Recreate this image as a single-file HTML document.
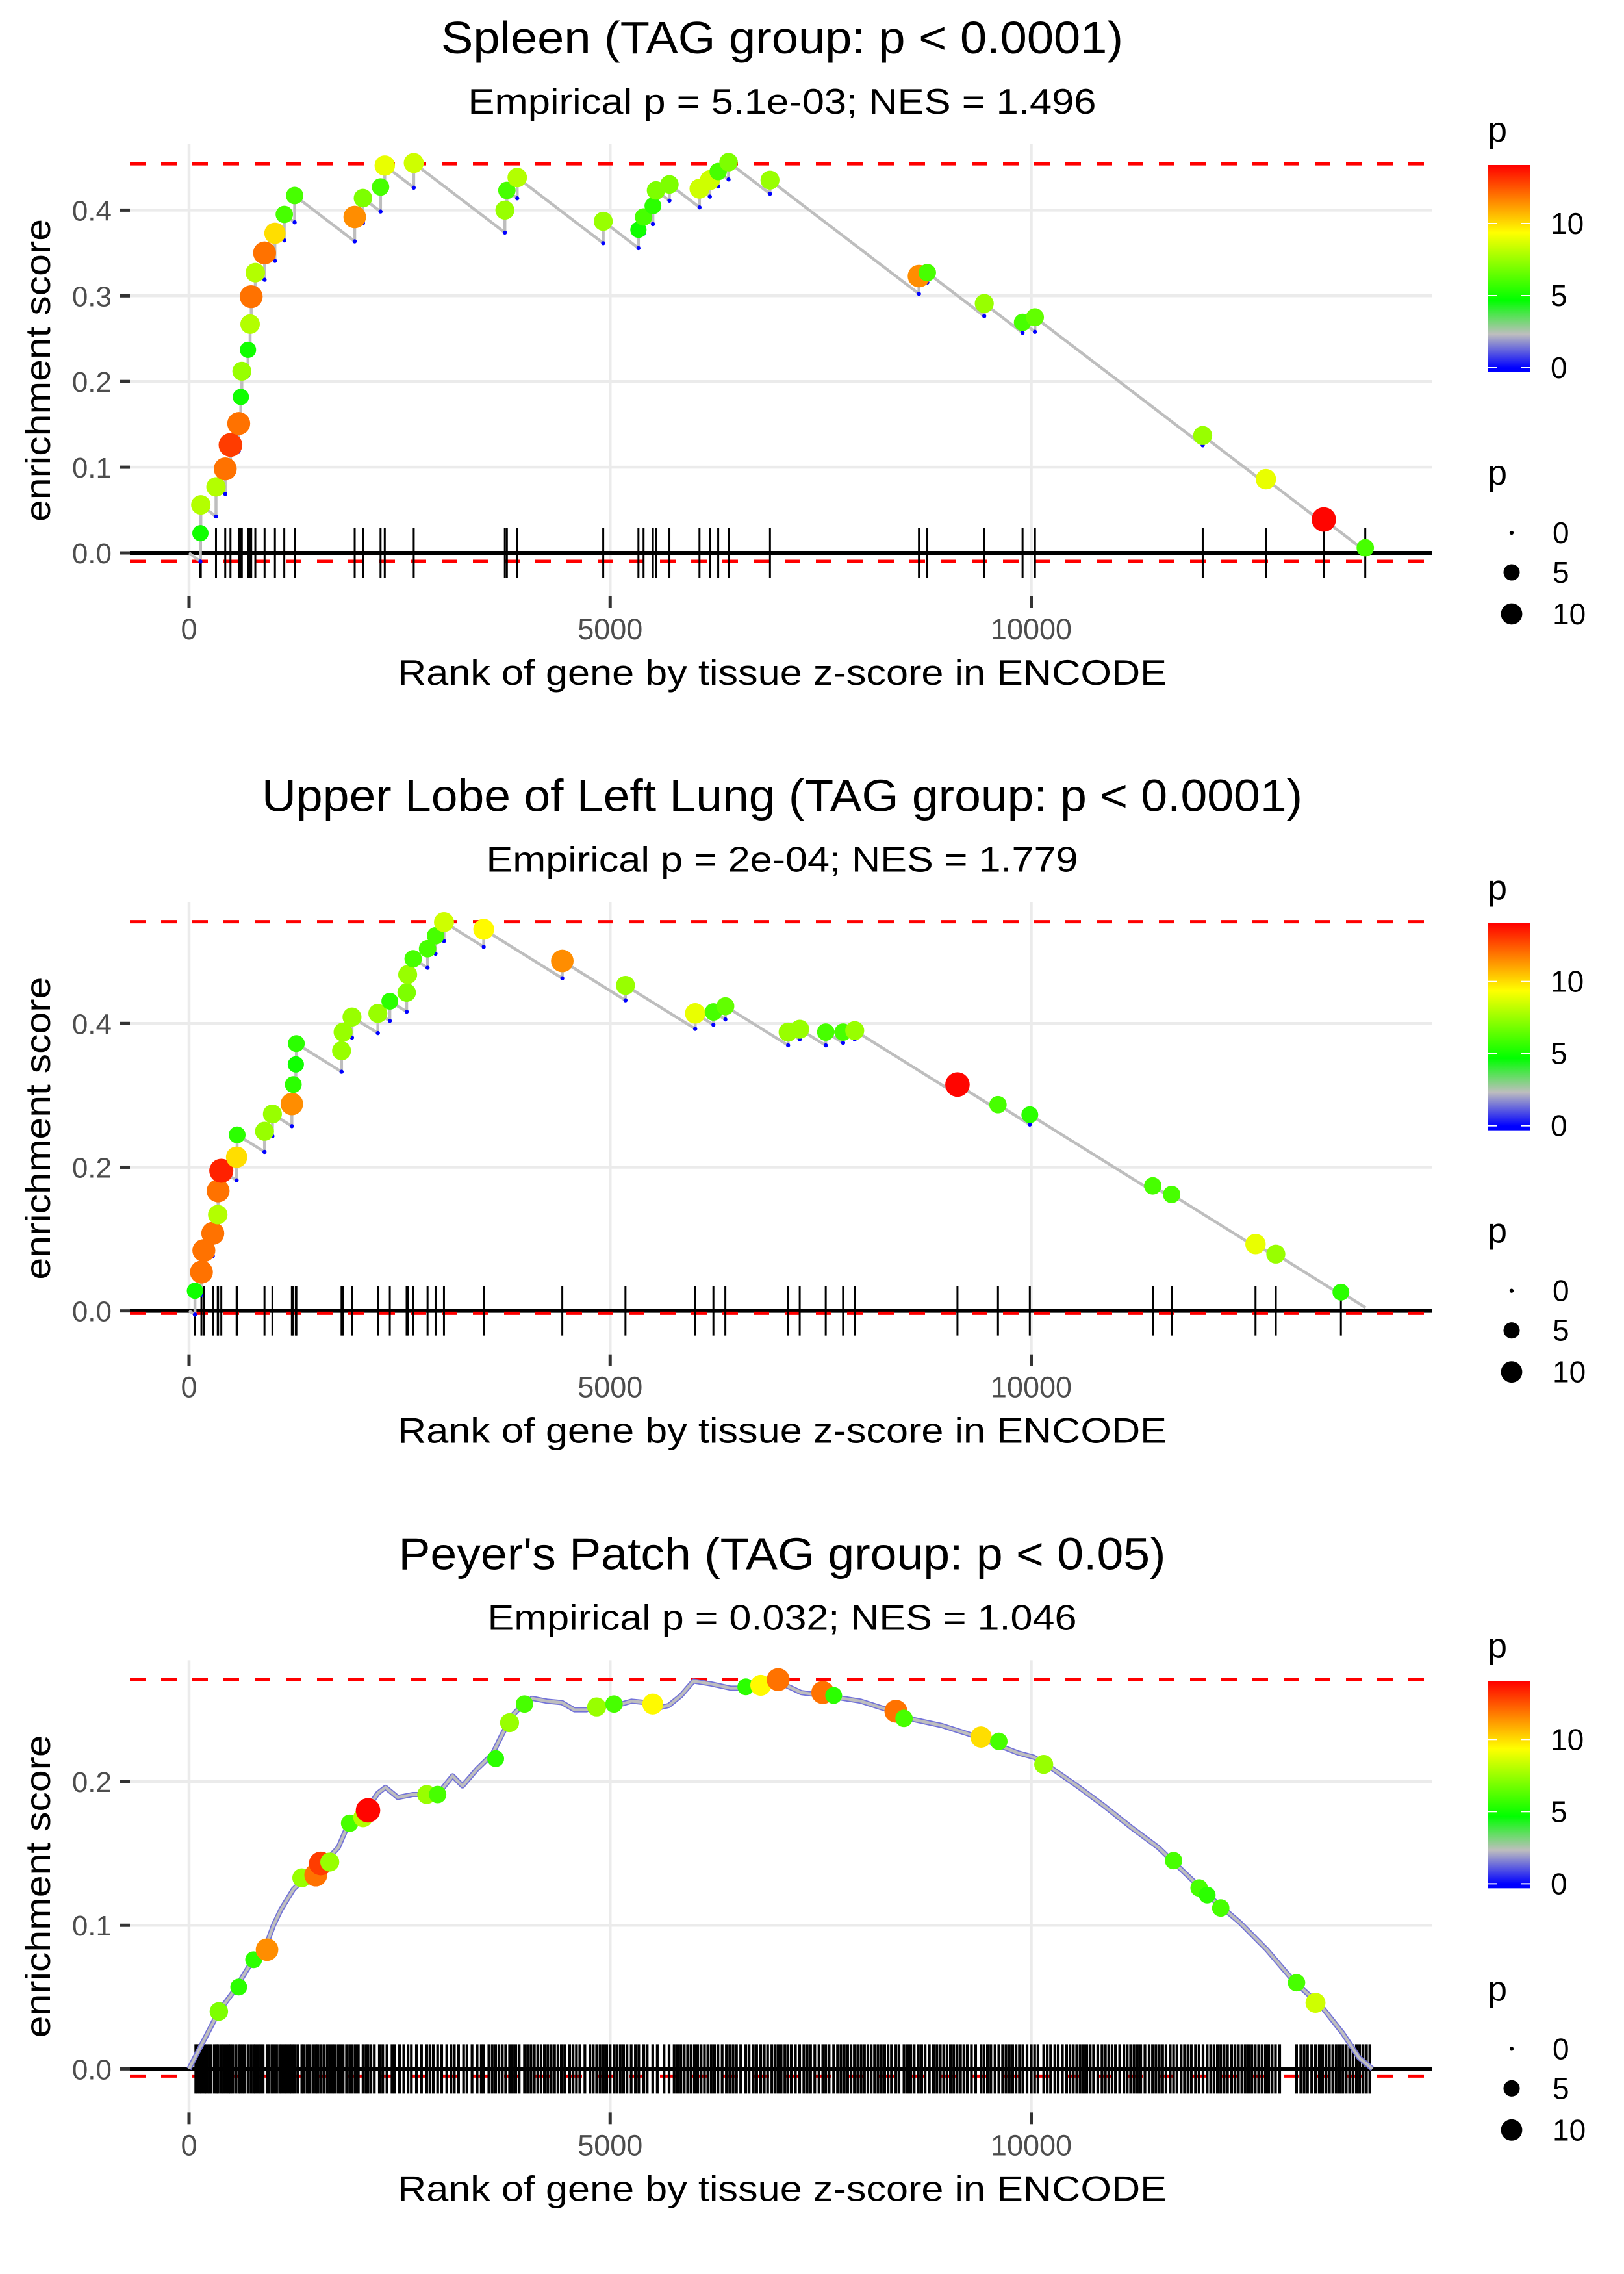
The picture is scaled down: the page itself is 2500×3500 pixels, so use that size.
<!DOCTYPE html>
<html><head><meta charset="utf-8"><title>Enrichment plots</title>
<style>
html,body{margin:0;padding:0;background:#fff;}
svg{display:block;font-family:"Liberation Sans",Arial,sans-serif;}
</style></head>
<body>
<svg id="chart" xmlns="http://www.w3.org/2000/svg" width="2500" height="3500" viewBox="0 0 2500 3500">
<rect x="0" y="0" width="2500" height="3500" fill="#ffffff"/>
<defs>
<linearGradient id="pgrad" x1="0" y1="1" x2="0" y2="0">
<stop offset="0.0208" stop-color="#0000ff"/>
<stop offset="0.184" stop-color="#bebebe"/>
<stop offset="0.347" stop-color="#00ff00"/>
<stop offset="0.674" stop-color="#ffff00"/>
<stop offset="1" stop-color="#ff0000"/>
</linearGradient>
</defs>
</svg>
<script>
// ---------- data ----------
const panelTitles = ["Spleen (TAG group: p < 0.0001)", "Upper Lobe of Left Lung (TAG group: p < 0.0001)", "Peyer's Patch (TAG group: p < 0.05)"];
const panelSubtitles = ["Empirical p = 5.1e-03; NES = 1.496", "Empirical p = 2e-04; NES = 1.779", "Empirical p = 0.032; NES = 1.046"];
const xTickValues = [0, 5000, 10000];
const xTickLabels = ["0", "5000", "10000"];
const spleenYTicks = [0, 0.1, 0.2, 0.3, 0.4];
const spleenYTickLabels = ["0.0", "0.1", "0.2", "0.3", "0.4"];
const lungYTicks = [0, 0.2, 0.4];
const lungYTickLabels = ["0.0", "0.2", "0.4"];
const peyerYTicks = [0, 0.1, 0.2];
const peyerYTickLabels = ["0.0", "0.1", "0.2"];
const legendTickValues = [0, 5, 10];
const legendTickLabels = ["0", "5", "10"];

const spleenRanks = [135,140,320,430,492,590,615,627,700,725,738,787,897,1020,1131,1254,1967,2065,2274,2324,2668,3750,3774,3897,4918,5336,5397,5508,5545,5704,6061,6184,6283,6406,6898,8667,8766,9442,9897,10044,12036,12786,13474,13966];
const spleenES = [0.023,0.056,0.077,0.098,0.126,0.151,0.182,0.212,0.237,0.267,0.299,0.327,0.350,0.373,0.395,0.417,0.392,0.414,0.427,0.452,0.455,0.400,0.423,0.438,0.387,0.377,0.392,0.405,0.423,0.430,0.425,0.435,0.445,0.456,0.435,0.323,0.327,0.291,0.269,0.275,0.137,0.086,0.039,0.006];
const spleenP = [5,8,8,12,13,12,5,7.5,5,8,12,8,12,10,6,6,11.5,7,6,9,8.5,7.5,6,8,7.5,5,6,5.5,7,7,8.5,8.5,6,7,7.5,11.5,6,7.5,6,6.5,7.5,9,14,6];
const spleenMinMax = [-0.0099, 0.454];
const spleenTotal = 14040;

const lungRanks = [70,147,176,282,341,345,383,565,571,896,990,1221,1238,1268,1274,1811,1829,1935,2242,2384,2584,2596,2661,2832,2927,3027,3499,4432,5182,6010,6226,6368,7113,7251,7560,7766,7904,9124,9605,9983,11443,11667,12663,12904,13677];
const lungES = [0.028,0.054,0.084,0.108,0.134,0.167,0.195,0.214,0.245,0.250,0.274,0.288,0.315,0.343,0.372,0.362,0.388,0.409,0.414,0.431,0.443,0.468,0.490,0.504,0.522,0.541,0.531,0.487,0.453,0.414,0.416,0.424,0.388,0.392,0.388,0.388,0.390,0.315,0.287,0.273,0.174,0.162,0.093,0.079,0.026];
const lungP = [5,12,12,12,8,12,13.5,10,5.5,7.5,7.5,11.5,5.5,5,5.5,7.5,7.5,7.5,7.5,5.5,7,7.5,6,6,6,8.5,9.5,11.5,7.5,9,6,6.5,7.5,7.5,6,6,7.5,14,6,5.5,6,6,9,7.5,5.5];
const lungMinMax = [-0.0034, 0.5416];
const lungTotal = 13970;

const peyerCurveRanks = [0,177,354,531,708,885,1003,1092,1239,1416,1593,1771,1889,2007,2125,2243,2332,2479,2656,2775,2952,3129,3247,3424,3601,3719,3837,3955,4073,4250,4427,4575,4722,4840,5076,5253,5430,5548,5695,5843,5990,6197,6433,6611,6847,7011,7268,7654,7975,8296,8618,8939,9261,9582,9839,10032,10225,10546,10868,11189,11511,11832,12154,12475,12797,13118,13440,13697,13890,14050];
const peyerCurveES = [0,0.020,0.040,0.054,0.071,0.081,0.100,0.111,0.125,0.135,0.143,0.154,0.170,0.175,0.182,0.192,0.196,0.189,0.191,0.191,0.191,0.204,0.197,0.209,0.219,0.233,0.246,0.253,0.258,0.256,0.255,0.250,0.250,0.253,0.253,0.256,0.255,0.251,0.253,0.260,0.270,0.268,0.265,0.265,0.270,0.269,0.262,0.259,0.256,0.250,0.243,0.239,0.233,0.226,0.220,0.217,0.210,0.197,0.183,0.168,0.154,0.136,0.118,0.102,0.083,0.061,0.044,0.025,0.008,0];
const peyerHitRanks = [354,590,767,926,1339,1505,1564,1671,1907,2066,2125,2822,2952,3641,3806,3983,4840,5046,5506,6611,6788,6995,7525,7654,8393,8489,9404,9615,10148,11690,11993,12089,12250,13150,13375];
const peyerHitES = [0.040,0.057,0.076,0.083,0.133,0.135,0.143,0.144,0.171,0.175,0.180,0.191,0.191,0.216,0.241,0.254,0.252,0.254,0.254,0.266,0.267,0.271,0.262,0.260,0.249,0.244,0.231,0.228,0.212,0.145,0.126,0.121,0.112,0.060,0.046];
const peyerHitP = [7,5.5,5.5,11.5,7.5,12,13,7.5,6,8,14,7.5,6,5.5,7.5,6,7.5,6,9.5,5.5,9.5,12,12,5.5,12,6,10,6,7.5,6,6,5.5,6,6,8.5];
const peyerRugRanks = [80,105,130,150,185,210,240,262,300,330,345,380,410,440,470,490,520,555,590,610,640,660,700,735,767,790,820,850,880,926,950,985,1010,1040,1075,1100,1130,1160,1195,1220,1250,1290,1339,1360,1400,1430,1470,1505,1530,1564,1600,1640,1671,1700,1730,1770,1800,1830,1870,1907,1940,1975,2010,2066,2100,2125,2160,2200,2260,2300,2350,2410,2440,2500,2550,2600,2640,2700,2760,2822,2860,2900,2952,3000,3060,3110,3150,3200,3260,3300,3360,3420,3470,3500,3560,3600,3641,3680,3720,3760,3806,3840,3880,3920,3983,4020,4060,4100,4140,4180,4220,4260,4300,4340,4380,4420,4460,4520,4560,4600,4640,4700,4760,4800,4840,4880,4920,4960,5000,5046,5080,5120,5160,5200,5250,5300,5340,5400,5440,5506,5560,5640,5700,5760,5800,5840,5880,5920,5960,6000,6040,6080,6120,6160,6200,6240,6280,6330,6380,6420,6460,6500,6550,6611,6650,6700,6740,6788,6830,6870,6920,6960,6995,7030,7075,7110,7150,7200,7250,7300,7340,7380,7430,7480,7525,7560,7600,7654,7700,7740,7780,7820,7860,7900,7940,7980,8020,8060,8100,8140,8180,8220,8260,8300,8340,8393,8430,8489,8530,8570,8610,8660,8700,8740,8790,8840,8880,8920,8960,9000,9040,9080,9120,9160,9200,9240,9290,9340,9404,9440,9480,9520,9570,9615,9660,9700,9740,9780,9820,9860,9900,9950,10000,10040,10080,10148,10190,10230,10280,10320,10370,10420,10460,10500,10540,10580,10620,10660,10700,10740,10790,10840,10880,10920,10960,11000,11050,11100,11140,11180,11220,11260,11300,11350,11400,11440,11480,11520,11560,11600,11650,11690,11730,11780,11820,11860,11900,11950,11993,12040,12089,12130,12170,12210,12250,12290,12330,12380,12420,12460,12500,12540,12580,12620,12660,12700,12740,12780,12820,12860,12900,12950,13150,13200,13240,13280,13330,13375,13420,13460,13500,13540,13580,13620,13660,13700,13740,13780,13820,13860,13900,13940,13980,14020];
const peyerMinMax = [-0.005, 0.2709];

// ---------- drawing ----------
const NS = "http://www.w3.org/2000/svg";
const svg = document.getElementById("chart");
function mk(tag, attrs, parent) {
  const el = document.createElementNS(NS, tag);
  for (const k in attrs) el.setAttribute(k, attrs[k]);
  (parent || svg).appendChild(el);
  return el;
}
const PMAX = 14.1;
const cStops = [[0,[0,0,255]],[2.35,[190,190,190]],[4.7,[0,255,0]],[9.4,[255,255,0]],[14.1,[255,0,0]]];
function pColor(p) {
  if (p <= cStops[0][0]) return "rgb(0,0,255)";
  for (let i = 1; i < cStops.length; i++) {
    if (p <= cStops[i][0]) {
      const a = cStops[i-1], b = cStops[i];
      const t = (p - a[0]) / (b[0] - a[0]);
      const c = a[1].map((v, j) => Math.round(v + (b[1][j] - v) * t));
      return "rgb(" + c.join(",") + ")";
    }
  }
  return "rgb(255,0,0)";
}
function pRadius(p) { return 3.15 * (1 + 5 * Math.sqrt(Math.max(p, 0) / PMAX)); }
const xS = r => 291 + r * 0.12965;
const LEFT = 200, RIGHT = 2204;

function drawPanel(idx, cfg) {
  const off = idx * 1166.67;
  const g = mk("g", {});
  
  
  const top = 222 + off, bottom = 918 + off, zero = 851 + off;
  const yS = v => zero - v * cfg.k;

  let t = mk("text", {x: 1204, y: 82 + off, "text-anchor": "middle", "font-size": 70, fill: "#000", textLength: cfg.titleW, lengthAdjust: "spacingAndGlyphs"}, g);
  t.textContent = panelTitles[idx];
  
  
  t = mk("text", {x: 1204, y: 175 + off, "text-anchor": "middle", "font-size": 55, fill: "#000", textLength: cfg.subW, lengthAdjust: "spacingAndGlyphs"}, g);
  t.textContent = panelSubtitles[idx];
  
  

  cfg.yTicks.forEach(v => {
    const l = mk("line", {x1: LEFT, x2: RIGHT, y1: yS(v), y2: yS(v), stroke: "#ebebeb", "stroke-width": 4.5}, g);
    
    
  });
  xTickValues.forEach(v => {
    const l = mk("line", {x1: xS(v), x2: xS(v), y1: top, y2: bottom, stroke: "#ebebeb", "stroke-width": 4.5}, g);
    
    
  });

  let z = mk("line", {x1: LEFT, x2: RIGHT, y1: yS(0), y2: yS(0), stroke: "#000", "stroke-width": 6}, g);
  
  
  cfg.minMax.forEach((v, i) => {
    const d = mk("line", {x1: LEFT, x2: RIGHT, y1: yS(v), y2: yS(v), stroke: "#ff0000", "stroke-width": 5, "stroke-dasharray": "24 24"}, g);
    
    
  });
  const rugG = mk("g", {}, g);
  
  
  cfg.rug.forEach(r => {
    const l = mk("line", {x1: xS(r), x2: xS(r), y1: zero - 38, y2: zero + 38, stroke: "#000", "stroke-width": cfg.rugW}, rugG);
    
    
  });

  if (cfg.curveR) {
    let d = "";
    cfg.curveR.forEach((r, i) => { d += (i ? "L" : "M") + xS(r).toFixed(1) + "," + yS(cfg.curveV[i]).toFixed(1); });
    const under = mk("path", {d: d, fill: "none", stroke: "#7272d8", "stroke-width": 8, "stroke-linejoin": "round"}, g);
    
    
    const ln = mk("path", {d: d, fill: "none", stroke: "#bebebe", "stroke-width": 4.5, "stroke-linejoin": "round"}, g);
    
    
  } else {
    let d = "M" + xS(0) + "," + yS(0);
    let prevR = 0, prevV = 0;
    const bottoms = [];
    cfg.ranks.forEach((r, i) => {
      const b = prevV - cfg.slope * (r - prevR);
      bottoms.push([r, b]);
      d += "L" + xS(r).toFixed(1) + "," + yS(b).toFixed(1) + "L" + xS(r).toFixed(1) + "," + yS(cfg.es[i]).toFixed(1);
      prevR = r; prevV = cfg.es[i];
    });
    d += "L" + xS(cfg.total).toFixed(1) + "," + yS(prevV - cfg.slope * (cfg.total - prevR)).toFixed(1);
    const ln = mk("path", {d: d, fill: "none", stroke: "#bebebe", "stroke-width": 4.5, "stroke-linejoin": "round"}, g);
    
    
    bottoms.forEach(b => {
      const c = mk("circle", {cx: xS(b[0]), cy: yS(b[1]), r: 3.2, fill: "#0000ff"}, g);
      
      
    });
  }
  cfg.ranks.forEach((r, i) => {
    const c = mk("circle", {cx: xS(r), cy: yS(cfg.es[i]), r: pRadius(cfg.p[i]), fill: pColor(cfg.p[i])}, g);
    
    
  });

  cfg.yTicks.forEach((v, i) => {
    const tk = mk("line", {x1: 185, x2: 200, y1: yS(v), y2: yS(v), stroke: "#333", "stroke-width": 5}, g);
    
    
    const lb = mk("text", {x: 172, y: yS(v) + 16, "text-anchor": "end", "font-size": 44, fill: "#4d4d4d"}, g);
    lb.textContent = cfg.yLabels[i];
    
    
  });
  xTickValues.forEach((v, i) => {
    const tk = mk("line", {x1: xS(v), x2: xS(v), y1: bottom, y2: bottom + 18, stroke: "#333", "stroke-width": 5}, g);
    
    
    const lb = mk("text", {x: xS(v), y: 984 + off, "text-anchor": "middle", "font-size": 45, fill: "#4d4d4d"}, g);
    lb.textContent = xTickLabels[i];
    
    
  });
  const xt = mk("text", {x: 1204, y: 1054 + off, "text-anchor": "middle", "font-size": 55, fill: "#000", textLength: 1184, lengthAdjust: "spacingAndGlyphs"}, g);
  xt.textContent = "Rank of gene by tissue z-score in ENCODE";
  
  
  const yt = mk("text", {x: 0, y: 0, "text-anchor": "middle", "font-size": 54, fill: "#000", textLength: 466, lengthAdjust: "spacingAndGlyphs", transform: "translate(77," + (570 + off) + ") rotate(-90)"}, g);
  yt.textContent = "enrichment score";
  
  

  const cl = mk("g", {}, g);
  
  
  const ct = mk("text", {x: 2290, y: 218 + off, "font-size": 54, fill: "#000"}, cl);
  ct.textContent = "p";
  
  
  const bar = mk("rect", {x: 2291, y: 254 + off, width: 64, height: 319, fill: "url(#pgrad)"}, cl);
  
  
  legendTickValues.forEach((v, i) => {
    const yy = 566 + off - 22.2 * v;
    const a = mk("line", {x1: 2291, x2: 2304, y1: yy, y2: yy, stroke: "#fff", "stroke-width": 2}, cl);
    
    
    const b = mk("line", {x1: 2342, x2: 2355, y1: yy, y2: yy, stroke: "#fff", "stroke-width": 2}, cl);
    
    
    const lb = mk("text", {x: 2387, y: yy + 16, "font-size": 46, fill: "#000"}, cl);
    lb.textContent = legendTickLabels[i];
    
    
  });
  const sl = mk("g", {}, g);
  
  
  const st = mk("text", {x: 2290, y: 746 + off, "font-size": 54, fill: "#000"}, sl);
  st.textContent = "p";
  
  
  const sy = [820, 881, 945];
  legendTickValues.forEach((v, i) => {
    const c = mk("circle", {cx: 2327, cy: sy[i] + off, r: pRadius(v), fill: "#000"}, sl);
    
    
    const lb = mk("text", {x: 2390, y: sy[i] + off + 16, "font-size": 46, fill: "#000"}, sl);
    lb.textContent = legendTickLabels[i];
    
    
  });
}

drawPanel(0, {name: "spleen", k: 1319, yTicks: spleenYTicks, yLabels: spleenYTickLabels, minMax: spleenMinMax,
  ranks: spleenRanks, es: spleenES, p: spleenP, rug: spleenRanks, rugW: 3, slope: 7.5e-5, total: spleenTotal, titleW: 1050, subW: 967});
drawPanel(1, {name: "lung", k: 1106, yTicks: lungYTicks, yLabels: lungYTickLabels, minMax: lungMinMax,
  ranks: lungRanks, es: lungES, p: lungP, rug: lungRanks, rugW: 3, slope: 7.3e-5, total: lungTotal, titleW: 1602, subW: 911});
drawPanel(2, {name: "peyers-patch", k: 2211, yTicks: peyerYTicks, yLabels: peyerYTickLabels, minMax: peyerMinMax,
  ranks: peyerHitRanks, es: peyerHitES, p: peyerHitP, rug: peyerRugRanks, rugW: 4.2, curveR: peyerCurveRanks, curveV: peyerCurveES, titleW: 1181, subW: 907});
</script>
</body></html>
